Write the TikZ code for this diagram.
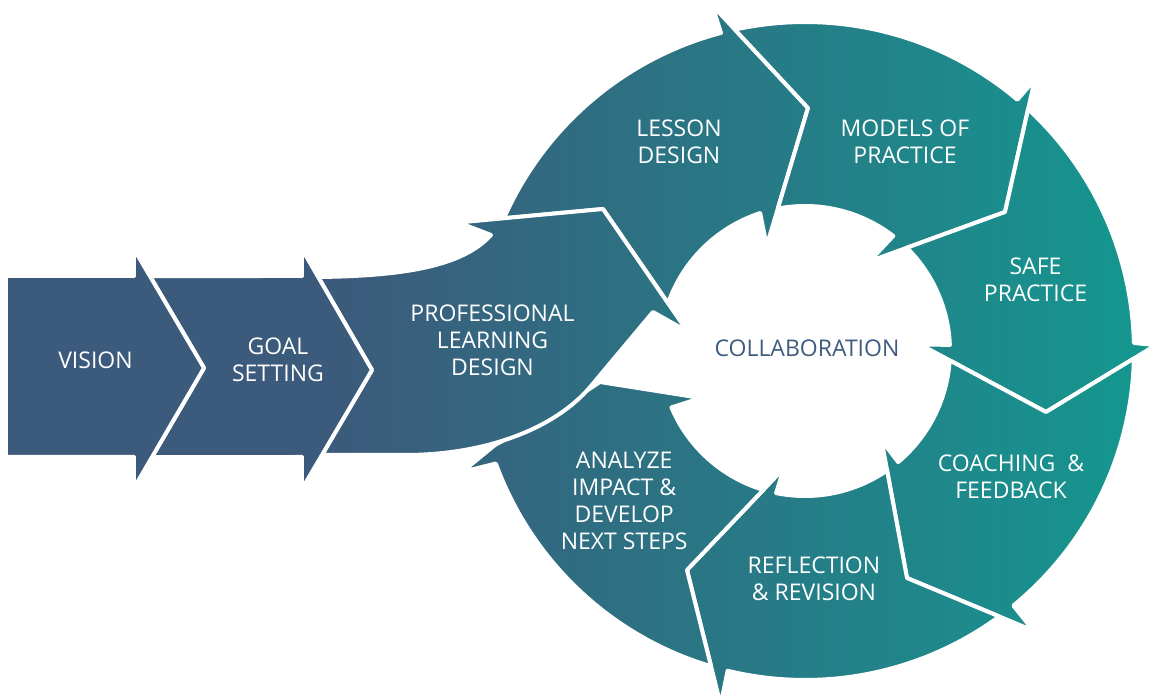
\documentclass[tikz,border=0pt]{standalone}
\usepackage{fontspec}
\setmainfont{Open Sans}
\usetikzlibrary{calc}
\definecolor{cA}{HTML}{3C5A7B}
\definecolor{cB}{HTML}{15968F}
\definecolor{hubtext}{HTML}{3E5C7E}
\def\ringout{329}
\def\ringin{145}
% fill a closed path with the picture-wide left-to-right gradient, then outline it in white
\newcommand\gfill[1]{%
  \begin{scope}
    \clip #1;
    \fill[cA] (-810,-350) rectangle (-474,355);
    \shade[left color=cA,right color=cB] (-475,-350) rectangle (330,355);
    \fill[cB] (329,-350) rectangle (360,355);
  \end{scope}
  \path[gap] #1;}
\begin{document}
\begin{tikzpicture}[x=1pt,y=1pt,
  gap/.style={draw=white,line width=4pt,line join=round},
  lbl/.style={text=white,align=center,inner sep=0pt,font=\fontsize{23}{27}\selectfont}]
\fill[white] (-805,-347) rectangle (347,351);
\useasboundingbox (-805,-347) rectangle (347,351);

% ring boundaries: vertex, outer/inner tail points, barb tips
\coordinate (V1) at (-202,142);
\coordinate (O1) at (156.2:\ringout);
\coordinate (I1) at (160.8:\ringin);
\coordinate (Ob1) at ($(V1)!1.46!(O1)$);
\coordinate (Ib1) at ($(V1)!1.30!(I1)$);

\coordinate (V2) at (3,243);
\coordinate (O2) at (102.3:\ringout);
\coordinate (I2) at (100.8:\ringin);
\coordinate (Ob2) at ($(V2)!1.31!(O2)$);
\coordinate (Ib2) at ($(V2)!1.37!(I2)$);

\coordinate (V3) at (200,139);
\coordinate (O3) at (47.3:\ringout);
\coordinate (I3) at (45.4:\ringin);
\coordinate (Ob3) at ($(V3)!1.29!(O3)$);
\coordinate (Ib3) at ($(V3)!1.38!(I3)$);

\coordinate (V4) at (241,-61);
\coordinate (O4) at (-1.3:\ringout);
\coordinate (I4) at (-3.7:\ringin);
\coordinate (Ob4) at ($(V4)!1.25!(O4)$);
\coordinate (Ib4) at ($(V4)!1.31!(I4)$);

\coordinate (V5) at (102,-227);
\coordinate (O5) at (-53.8:\ringout);
\coordinate (I5) at (-55.5:\ringin);
\coordinate (Ob5) at ($(V5)!1.37!(O5)$);
\coordinate (Ib5) at ($(V5)!1.28!(I5)$);

\coordinate (V6) at (-118,-219);
\coordinate (O6) at (-106.6:\ringout);
\coordinate (I6) at (-106.7:\ringin);
\coordinate (Ob6) at ($(V6)!1.40!(O6)$);
\coordinate (Ib6) at ($(V6)!1.27!(I6)$);

\coordinate (V7) at (-205,-31);
\coordinate (Ob7) at (-343,-121);
\coordinate (Ib7) at (-104,-47);

% straight chevrons on the left
\coordinate (Vt) at (-601,-17);
\coordinate (Vb1) at (-671,102);
\coordinate (Vb2) at (-671,-137);
\coordinate (Gt) at (-433,-19);
\coordinate (Gb1) at (-503,102);
\coordinate (Gb2) at (-503,-138);
\coordinate (GTL) at ($(Vt)!0.773!(Vb1)$);
\coordinate (GBL) at ($(Vt)!0.742!(Vb2)$);
\coordinate (TL) at ($(Gt)!0.7686!(Gb1)$);
\coordinate (BL) at ($(Gt)!0.714!(Gb2)$);

% ring segments, clockwise
\gfill{(O1) arc[start angle=156.2,end angle=104.8,radius=\ringout] -- (Ob2) -- (V2) -- (Ib2)
  -- (108:\ringin) arc[start angle=108,end angle=160.8,radius=\ringin] -- (V1) -- cycle}
\gfill{(O2) arc[start angle=102.3,end angle=49.8,radius=\ringout] -- (Ob3) -- (V3) -- (Ib3)
  -- (52.5:\ringin) arc[start angle=52.5,end angle=100.8,radius=\ringin] -- (V2) -- cycle}
\gfill{(O3) arc[start angle=47.3,end angle=1.4,radius=\ringout] -- (Ob4) -- (V4) -- (Ib4)
  -- (2.4:\ringin) arc[start angle=2.4,end angle=45.4,radius=\ringin] -- (V3) -- cycle}
\gfill{(O4) arc[start angle=-1.3,end angle=-50.7,radius=\ringout] -- (Ob5) -- (V5) -- (Ib5)
  -- (-50:\ringin) arc[start angle=-50,end angle=-3.7,radius=\ringin] -- (V4) -- cycle}
\gfill{(O5) arc[start angle=-53.8,end angle=-103.6,radius=\ringout] -- (Ob6) -- (V6) -- (Ib6)
  -- (-101.5:\ringin) arc[start angle=-101.5,end angle=-55.5,radius=\ringin] -- (V5) -- cycle}
\gfill{(O6) arc[start angle=-106.6,end angle=-160,radius=\ringout] -- (Ob7) -- (-310,-94)
  -- (-255,-64) -- (V7) -- (Ib7)
  -- (-157.1:\ringin) arc[start angle=-157.1,end angle=-106.7,radius=\ringin] -- (V6) -- cycle}

% professional learning design arrow
\gfill{(TL) .. controls (-400,75) and (-342,85) .. (-314,116) -- (Ob1) -- (V1) -- (Ib1)
  -- (-152,39) -- (-214,-35) .. controls (-250,-78) and (-320,-104) .. (-400,-104)
  -- (BL) -- (Gt) -- cycle}

% goal setting and vision arrows
\gfill{(GTL) -- (-503,75) -- (Gb1) -- (Gt) -- (Gb2) -- (-503,-106) -- (GBL) -- (Vt) -- cycle}
\gfill{(-799,75) -- (-671,75) -- (Vb1) -- (Vt) -- (Vb2) -- (-671,-106) -- (-799,-106) -- cycle}

% labels
\node[lbl] (vision) at (-709.5,-9) {VISION};
\node[lbl] (goal) at (-527,-9) {GOAL\\SETTING};
\node[lbl] (pld) at (-312.5,11) {PROFESSIONAL\\LEARNING\\DESIGN};
\node[lbl] (lesson) at (-126,209) {LESSON\\DESIGN};
\node[lbl] (models) at (100,209.3) {MODELS OF\\PRACTICE};
\node[lbl] (safe) at (230.5,71) {SAFE\\PRACTICE};
\node[lbl] (coach) at (206,-125.7) {COACHING\ \ \&\\FEEDBACK};
\node[lbl] (reflect) at (9,-227.3) {REFLECTION\\\& REVISION};
\node[lbl] (analyze) at (-180.8,-149.8) {ANALYZE\\IMPACT \&\\DEVELOP\\NEXT STEPS};
\node[lbl,text=hubtext] (collab) at (2,2.3) {COLLABORATION};
\end{tikzpicture}
\end{document}
